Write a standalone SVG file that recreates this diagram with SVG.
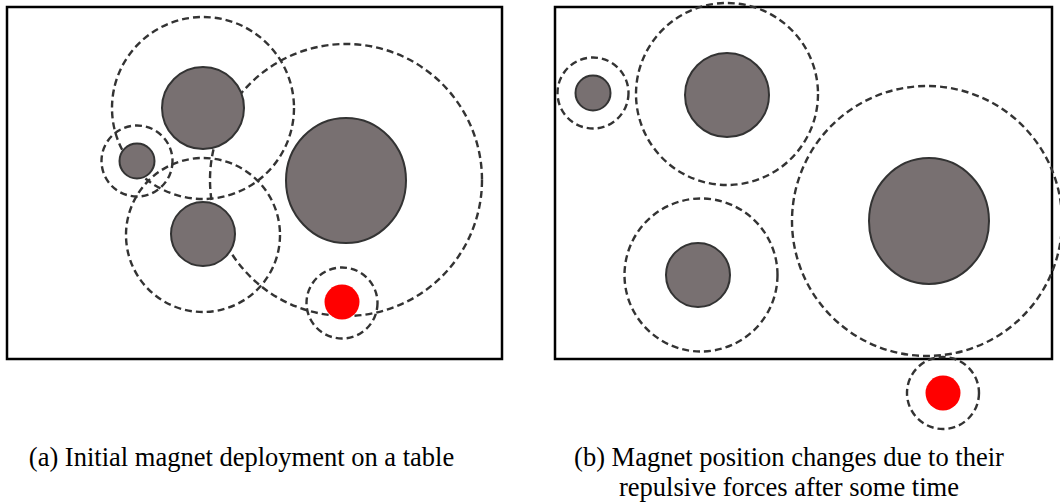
<svg xmlns="http://www.w3.org/2000/svg" width="1060" height="503" viewBox="0 0 1060 503">
<style>
.frame{fill:none;stroke:#000;stroke-width:2.5}
.field{fill:none;stroke:#333;stroke-width:2.4;stroke-dasharray:7 4}
.magnet{fill:#787071;stroke:#333;stroke-width:2}
.target{fill:#ff0000;stroke:none}
.cap{font-family:"Liberation Serif","Times New Roman",serif;font-size:26.5px;fill:#000;text-anchor:middle}
</style>
<rect width="1060" height="503" fill="#fff"/>
<!-- Panel (a) -->
<g id="panel-a">
  <rect id="table-a" class="frame" x="7" y="7" width="495" height="352"/>
  <g id="fields-a">
    <circle class="field" cx="346" cy="180" r="136"/>
    <circle class="field" cx="203" cy="108" r="91"/>
    <circle class="field" cx="203" cy="235" r="77"/>
    <circle class="field" cx="137" cy="161" r="35.5"/>
    <circle class="field" cx="342" cy="303" r="35.5"/>
  </g>
  <g id="magnet-a1"><circle class="magnet" cx="203" cy="108" r="41"/></g>
  <g id="magnet-a2"><circle class="magnet" cx="137" cy="161" r="17.5"/></g>
  <g id="magnet-a3"><circle class="magnet" cx="203" cy="234" r="32"/></g>
  <g id="magnet-a4"><ellipse class="magnet" cx="346" cy="180.5" rx="60" ry="62.5"/></g>
  <g id="magnet-a5"><circle class="target" cx="342" cy="302" r="17.5"/></g>
</g>
<!-- Panel (b) -->
<g id="panel-b">
  <rect id="table-b" class="frame" x="555" y="7" width="497" height="352"/>
  <g id="fields-b">
    <circle class="field" cx="593" cy="93" r="35.5"/>
    <circle class="field" cx="727" cy="94" r="91"/>
    <circle class="field" cx="701" cy="275" r="76.5"/>
    <circle class="field" cx="927" cy="221" r="135"/>
    <circle class="field" cx="943" cy="393" r="36"/>
  </g>
  <g id="magnet-b1"><circle class="magnet" cx="593" cy="93" r="17.5"/></g>
  <g id="magnet-b2"><circle class="magnet" cx="727" cy="95" r="42"/></g>
  <g id="magnet-b3"><circle class="magnet" cx="698" cy="275" r="32"/></g>
  <g id="magnet-b4"><ellipse class="magnet" cx="929" cy="221" rx="60" ry="63"/></g>
  <g id="magnet-b5"><circle class="target" cx="943" cy="393" r="17.5"/></g>
</g>
<g id="captions">
  <text class="cap" x="241.5" y="466">(a) Initial magnet deployment on a table</text>
  <text class="cap" x="789" y="466">(b) Magnet position changes due to their</text>
  <text class="cap" x="789" y="496">repulsive forces after some time</text>
</g>
</svg>
